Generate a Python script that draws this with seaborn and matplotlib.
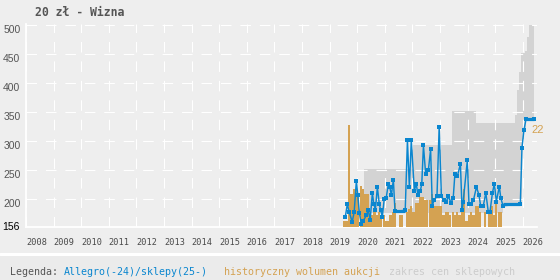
import numpy as np
import matplotlib
matplotlib.use("Agg")
import matplotlib.pyplot as plt
import seaborn as sns
from matplotlib.lines import Line2D
from matplotlib.patches import Rectangle

# --- dane ---
title = "20 zł - Wizna"
years = list(range(2008, 2027))
price_ticks = [200, 250, 300, 350, 400, 450, 500]
price_min_label = "156"
last_count_label = "22"

# ceny Allegro (do 2024) / sklepy (od 2025)
price_x = [
    2019.57, 2019.64, 2019.71, 2019.82, 2019.89, 2019.97, 2020.02, 2020.08, 2020.15, 2020.22,
    2020.33, 2020.40, 2020.47, 2020.55, 2020.60, 2020.66, 2020.73, 2020.80, 2020.85, 2020.91,
    2020.98, 2021.05, 2021.13, 2021.18, 2021.24, 2021.31, 2021.37, 2021.74, 2021.82, 2021.89,
    2021.96, 2022.07, 2022.14, 2022.20, 2022.29, 2022.34, 2022.40, 2022.48, 2022.58, 2022.66,
    2022.72, 2022.79, 2022.89, 2022.97, 2023.05, 2023.14, 2023.23, 2023.30, 2023.40, 2023.48,
    2023.54, 2023.63, 2023.74, 2023.80, 2023.84, 2023.99, 2024.05, 2024.13, 2024.21, 2024.32,
    2024.41, 2024.47, 2024.57, 2024.66, 2024.75, 2024.81, 2024.90, 2024.97, 2025.04, 2025.15,
    2025.20, 2025.28, 2025.91, 2025.97, 2026.04, 2026.12, 2026.41,
]
price_y = [
    169, 190, 177, 160, 177, 231, 206, 175, 156, 162,
    171, 180, 164, 210, 191, 181, 220, 191, 180, 169,
    200, 201, 226, 220, 206, 233, 178, 180, 301, 220,
    301, 214, 226, 206, 214, 226, 292, 243, 250, 285,
    188, 198, 204, 324, 204, 198, 195, 204, 193, 202,
    243, 239, 260, 180, 195, 266, 190, 190, 197, 220,
    207, 188, 188, 210, 177, 177, 210, 226, 195, 221,
    202, 188, 190, 288, 318, 338, 338,
]
# odcinki stałej ceny (gęste punkty)
flat_start = [2021.37, 2025.28, 2026.12]
flat_end = [2021.74, 2025.91, 2026.41]
flat_price = [178, 190, 338]

# zakres cen sklepowych
range_x = [2020.25, 2021.95, 2023.45, 2024.30, 2025.28, 2025.72, 2025.79, 2025.86,
           2025.93, 2025.97, 2026.04, 2026.08, 2026.12, 2026.15, 2026.22, 2026.41]
range_low = [176, 176, 176, 176, 190, 190, 190, 190, 190, 288, 318, 318, 338, 338, 338, 338]
range_high = [252, 293, 352, 331, 331, 345, 388, 419, 452, 452, 452, 455, 455, 479, 500, 501]

# historyczny wolumen aukcji (miesięcznie od 2019-07)
volume_start = 2019.5
volume = [
    2, 2, 35, 11, 13, 13, 10, 14, 13, 11,
    11, 5, 4, 5, 4, 5, 4, 4, 2, 2,
    4, 5, 8, 0, 4, 4, 0, 5, 6, 7,
    5, 8, 8, 10, 10, 9, 9, 9, 11, 7,
    7, 7, 7, 4, 5, 5, 4, 5, 4, 5,
    4, 8, 13, 2, 4, 5, 4, 7, 7, 5,
    0, 5, 0, 5, 7, 4, 8, 5, 5,
]

BG = "#eeeeee"
BLUE = "#0a86cf"
ORANGE = "#d4a252"
GREY = "#d3d3d3"
TEXT = "#555555"

sns.set_style("white", {"axes.facecolor": BG, "figure.facecolor": BG})
plt.rcParams["font.family"] = ["DejaVu Sans Mono", "DejaVu Sans"]

W, H = 560, 280
fig = plt.figure(figsize=(W / 100, H / 100), dpi=100)
fig.patch.set_facecolor(BG)

# pasek legendy
fig.add_artist(Rectangle((0, 0), 1, 1 - 255 / H, transform=fig.transFigure,
                         facecolor="#ebebeb", edgecolor="none"))
fig.add_artist(Line2D([0, 1], [1 - 254 / H] * 2, transform=fig.transFigure,
                      color="white", lw=2.2))

rect = [26 / W, 1 - 226.5 / H, 510.6 / W, 202.2 / H]
ax = fig.add_axes(rect)
ax.set_facecolor(BG)
ax.set_xlim(2008, 2026.5)
ax.set_ylim(152, 501)

ax.fill_between(range_x, range_low, range_high, step="post", color=GREY,
                linewidth=0, zorder=0.3)

ax.set_axisbelow(True)
ax.grid(True, color="white", linewidth=0.8, linestyle=(0, (9.5, 8)))
ax.set_xticks(years)
ax.set_xticklabels([str(y) for y in years], ha="left", fontsize=6.2, color="#4a4a4a",
                   family="DejaVu Sans Mono")
ax.set_yticks(price_ticks)
ax.set_yticklabels([str(v) for v in price_ticks], fontsize=7.5, color=TEXT,
                   family="Liberation Sans", va="top")
ax.tick_params(axis="both", length=0)
ax.tick_params(axis="x", pad=8)
ax.tick_params(axis="y", pad=4)
for s in ["top", "right"]:
    ax.spines[s].set_visible(False)
for s in ["left", "bottom"]:
    ax.spines[s].set_color("white")
    ax.spines[s].set_linewidth(1.3)
ax.text(-0.012, 152, price_min_label, transform=ax.get_yaxis_transform(),
        ha="right", va="center", fontsize=7.5, color="black", family="Liberation Sans")

# słupki wolumenu
ax2 = ax.twinx()
bar_x = volume_start + np.arange(len(volume)) / 12
ax2.bar(bar_x, volume, width=1 / 12, align="edge", color=ORANGE, linewidth=0)
ax2.set_ylim(0, 69.5)
ax2.set_yticks([])
for s in ax2.spines.values():
    s.set_visible(False)

# linia cen
ax3 = fig.add_axes(rect, sharex=ax, sharey=ax)
ax3.patch.set_visible(False)
ax3.axis("off")
sns.lineplot(x=price_x, y=price_y, ax=ax3, color=BLUE, marker="s", markersize=3,
             markeredgewidth=0, linewidth=1.05, sort=False, estimator=None)
for x0, x1, p in zip(flat_start, flat_end, flat_price):
    ax3.plot([x0, x1], [p, p], color=BLUE, linewidth=2.3, solid_capstyle="butt")
ax3.annotate(last_count_label, (price_x[-1], price_y[-1]), xytext=(-3, -11),
             textcoords="offset pixels", ha="left", va="center", fontsize=8,
             color=ORANGE, family="Liberation Sans")

fig.text(35 / W, 1 - 12 / H, title, ha="left", va="center", fontsize=8.3,
         fontweight="bold", color=TEXT)

ly = 1 - 272 / H
fig.text(9.6 / W, ly, "Legenda:", ha="left", va="center", fontsize=7.2, color=TEXT)
fig.text(64 / W, ly, "Allegro(-24)/sklepy(25-)", ha="left", va="center",
         fontsize=7.2, color=BLUE)
fig.text(224 / W, ly, "historyczny wolumen aukcji", ha="left", va="center",
         fontsize=7.2, color=ORANGE)
fig.text(389 / W, ly, "zakres cen sklepowych", ha="left", va="center",
         fontsize=7.2, color="#cccccc")

fig.savefig("out.png", dpi=100, facecolor=BG)
